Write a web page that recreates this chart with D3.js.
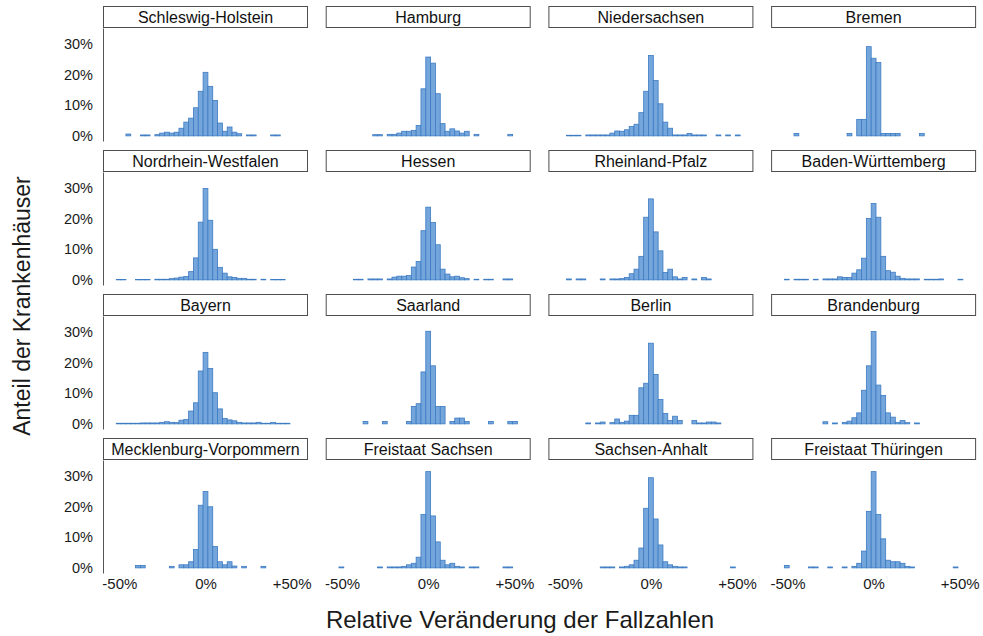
<!DOCTYPE html>
<html>
<head>
<meta charset="utf-8">
<script src="https://cdn.jsdelivr.net/npm/d3@7"></script>
<style>
  body { margin: 0; background: #fff; }
  svg { display: block; font-family: "Liberation Sans", Arial, sans-serif; }
</style>
</head>
<body>
<svg id="chart" width="983" height="636"></svg>
<script>
// Histogram bins: centre of each bin (relative change, %) and bin width
const binCenters = [-53.2, -50.4, -47.6, -44.8, -42.0, -39.2, -36.4, -33.6, -30.8, -28.0,
  -25.2, -22.4, -19.6, -16.8, -14.0, -11.2, -8.4, -5.6, -2.8, 0,
  2.8, 5.6, 8.4, 11.2, 14.0, 16.8, 19.6, 22.4, 25.2, 28.0,
  30.8, 33.6, 36.4, 39.2, 42.0, 44.8, 47.6, 50.4, 53.2];
const binWidth = 2.8;

const states = ["Schleswig-Holstein", "Hamburg", "Niedersachsen", "Bremen",
  "Nordrhein-Westfalen", "Hessen", "Rheinland-Pfalz", "Baden-Württemberg",
  "Bayern", "Saarland", "Berlin", "Brandenburg",
  "Mecklenburg-Vorpommern", "Freistaat Sachsen", "Sachsen-Anhalt", "Freistaat Thüringen"];

// Share of hospitals (%) per bin, one array per state
const shareSH = [0,0,0,0.6,0,0,0.3,0.3,0,0.4,0.9,1.2,0.9,1.2,2.5,4.5,5.8,9.2,14.6,20.8,16.2,11.6,4.2,1.5,2.9,1.2,0.7,0,0.3,0.3,0,0,0,0.3,0.3,0,0,0,0];
const shareHH = [0,0,0,0,0,0,0,0,0.4,0.4,0,0.5,0.5,0.9,1.5,1.5,1.8,3.4,15.4,25.8,23.8,13.8,4.0,1.5,2.3,1.6,0.9,1.5,0,0.5,0,0,0,0,0,0,0.5,0,0];
const shareNI = [0,0,0.2,0.2,0.2,0,0.3,0.3,0.3,0.3,0.3,0.9,1.6,1.5,2.0,3.1,3.8,7.6,14.6,26.3,18.1,10.5,4.5,2.5,0.3,0.3,0.3,0.8,0.3,0.3,0.3,0,0,0.3,0,0.3,0,0.3,0];
const shareHB = [0,0,0,0.8,0,0,0,0,0,0,0,0,0,0,0.8,0,5.4,5.4,29.2,25.4,24.0,0.8,0.8,0.8,0.8,0,0,0,0,0.8,0,0,0,0,0,0,0,0,0];
const shareNW = [0,0.15,0.15,0,0,0.15,0.15,0.15,0,0.2,0.2,0.2,0.4,0.6,0.9,1.1,2.7,7.2,18.9,29.9,19.5,10.0,4.1,2.2,1.0,0.8,0.5,0.5,0.2,0.2,0,0.2,0,0.15,0.15,0.15,0,0,0];
const shareHE = [0,0,0,0,0.2,0.2,0,0.3,0.3,0.3,0,0.3,0.9,1.2,1.2,1.4,4.2,6.0,16.1,23.8,18.8,11.5,3.5,1.9,1.0,1.2,0.7,0.4,0,0.2,0,0.2,0.2,0,0,0.3,0.3,0,0];
const shareRP = [0,0,0.3,0,0.3,0.3,0,0,0,0.3,0,0.3,0.3,0.4,0.8,2.0,3.5,7.7,20.5,26.5,15.7,9.5,2.4,3.5,1.0,0.3,0.8,0,0.3,0,0.8,0.3,0,0,0,0,0,0,0];
const shareBW = [0,0.2,0,0.2,0.2,0.2,0,0.2,0,0.3,0.3,0.3,1.0,0.8,0.8,2.2,3.3,7.1,20.1,25.0,20.5,7.7,3.0,2.5,1.2,0.5,0.3,0.3,0.3,0,0.2,0.2,0.2,0.3,0,0,0,0.2,0];
const shareBY = [0,0.2,0.2,0.2,0.2,0.2,0.3,0.3,0.3,0.3,0.5,0.7,0.5,0.4,1.2,1.4,4.2,6.9,17.3,23.4,18.1,10.2,4.9,1.8,1.3,1.0,0.5,0.3,0.3,0.3,0.5,0.2,0.2,0.5,0.2,0.2,0.2,0,0];
const shareSL = [0,0,0,0,0,0,0.8,0,0,0,0.8,0,0,0,0,0.8,5.7,6.6,17.0,30.3,19.0,5.7,5.7,0,0.8,1.9,1.9,0.8,0,0,0,0,0.8,0,0,0,0.8,0.8,0];
const shareBE = [0,0,0,0,0,0,0.3,0,0.3,0.6,0,0.4,1.6,0.5,0.9,2.8,2.8,11.8,13.3,26.4,16.2,8.0,3.4,1.1,2.5,1.1,0,0,1.1,0.3,0.3,0.6,0.6,0.3,0,0,0,0,0];
const shareBB = [0,0,0,0,0,0,0,0,0,0.7,0,0.3,0,0.5,0.9,2.0,3.6,11.0,19.0,30.2,12.7,9.3,3.6,2.2,0.5,1.1,0.4,0,0.3,0,0,0,0,0,0,0,0,0,0];
const shareMV = [0,0,0,0,0,0.8,0.8,0,0,0,0,0,0.5,0,1.0,1.0,2.0,6.0,20.5,25.0,20.0,7.0,2.0,1.0,2.0,0.6,0,0.5,0,0,0,0.5,0,0,0,0,0,0,0];
const shareSN = [0,0.3,0,0,0,0,0,0,0,0.3,0,0.3,0.3,0.3,0.5,1.0,1.5,3.5,17.5,31.5,17.0,8.5,2.5,1.0,1.5,0.5,0.3,0,0.3,0.3,0,0,0,0,0,0.3,0.3,0,0];
const shareST = [0,0,0,0,0,0,0,0,0,0.3,0.3,0.3,0,0.3,0.5,1.0,2.5,6.5,19.5,29.5,16.0,7.5,2.0,1.0,0.5,0.3,0.3,0,0,0,0,0,0,0,0,0,0.3,0,0];
const shareTH = [0,0.8,0,0,0,0,0.3,0.3,0,0,0.3,0,0,0.3,0,0.5,1.5,5.5,18.5,31.5,17.5,9.5,2.5,2.0,2.0,1.5,0.5,0.3,0,0,0,0,0,0,0,0,0.3,0,0];

const shares = [shareSH, shareHH, shareNI, shareHB, shareNW, shareHE, shareRP, shareBW,
  shareBY, shareSL, shareBE, shareBB, shareMV, shareSN, shareST, shareTH];

const yTicks = [0, 10, 20, 30];
const xTicks = [-50, 0, 50];
const xTickLabels = ["-50%", "0%", "+50%"];

// Facet layout
const svg = d3.select("#chart");
const left0 = 103, top0 = 6, colStep = 222.7, rowStep = 144;
const panelW = 205, stripH = 22, plotH = 113;

const x = d3.scaleLinear().domain([-59.5, 59.5]).range([0, panelW]);
const y = d3.scaleLinear().domain([-1.68, 35.3]).range([plotH, 0]);

const fillCol = "#74a6dc", strokeCol = "#3d7bc3", textCol = "#1a1a1a";

states.forEach((name, i) => {
  const col = i % 4, row = Math.floor(i / 4);
  const g = svg.append("g")
    .attr("transform", `translate(${left0 + col * colStep},${top0 + row * rowStep})`);

  // strip label
  g.append("rect")
    .attr("x", 0.5).attr("y", 0.5)
    .attr("width", panelW - 1).attr("height", stripH - 1)
    .attr("fill", "#fff").attr("stroke", "#4d4d4d").attr("stroke-width", 1);
  g.append("text")
    .attr("x", panelW / 2).attr("y", stripH / 2).attr("dy", "0.36em")
    .attr("text-anchor", "middle").attr("font-size", 16).attr("fill", "#111")
    .text(name);

  const p = g.append("g").attr("transform", `translate(0,${stripH})`);

  const bins = binCenters.map((c, j) => ({ c, v: shares[i][j] })).filter(d => d.v > 0);
  p.selectAll("rect.bar").data(bins).join("rect")
    .attr("class", "bar")
    .attr("x", d => x(d.c - binWidth / 2))
    .attr("width", d => x(d.c + binWidth / 2) - x(d.c - binWidth / 2))
    .attr("y", d => y(d.v))
    .attr("height", d => y(0) - y(d.v))
    .attr("fill", fillCol)
    .attr("stroke", strokeCol)
    .attr("stroke-width", 0.8);

  if (col === 0) {
    const ax = p.append("g")
      .call(d3.axisLeft(y).tickValues(yTicks).tickFormat(d => d + "%").tickSize(0).tickPadding(10).tickSizeOuter(0));
    ax.select(".domain").attr("stroke", "#555").attr("stroke-width", 1);
    ax.selectAll("text").attr("font-size", 14.5).attr("fill", textCol)
      .attr("font-family", "'Liberation Sans', Arial, sans-serif");
  }
  if (row === 3) {
    const ax = p.append("g").attr("transform", `translate(0,${plotH})`)
      .call(d3.axisBottom(x).tickValues(xTicks).tickFormat((d, k) => xTickLabels[k]).tickSize(0).tickPadding(5));
    ax.select(".domain").remove();
    ax.selectAll("text").attr("font-size", 15).attr("fill", textCol)
      .attr("font-family", "'Liberation Sans', Arial, sans-serif");
  }
});

// axis titles
svg.append("text")
  .attr("x", 520).attr("y", 628)
  .attr("text-anchor", "middle").attr("font-size", 24).attr("fill", textCol)
  .text("Relative Veränderung der Fallzahlen");
svg.append("text")
  .attr("transform", "translate(30,306) rotate(-90)")
  .attr("text-anchor", "middle").attr("font-size", 23).attr("fill", textCol)
  .text("Anteil der Krankenhäuser");
</script>
</body>
</html>
